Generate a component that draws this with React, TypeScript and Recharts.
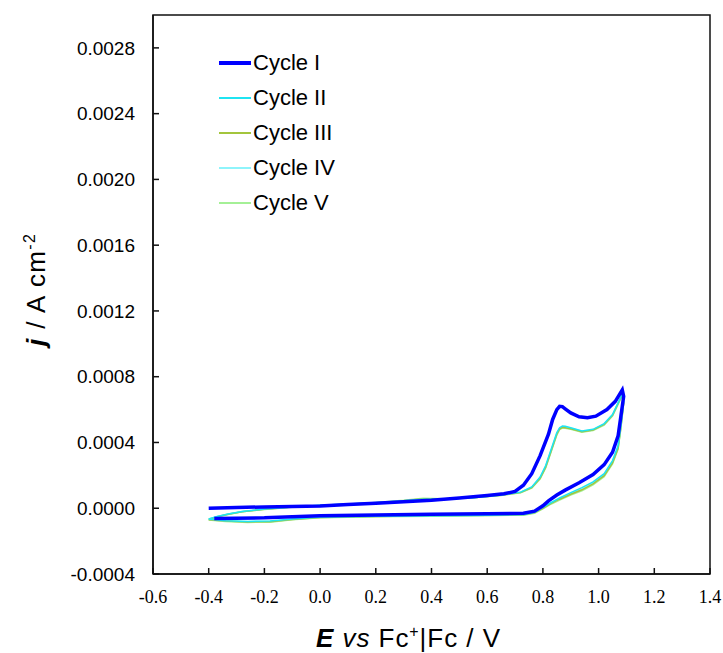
import React from 'react';
import {
  LineChart,
  Line,
  XAxis,
  YAxis,
  Legend,
  ReferenceArea,
  Label,
} from 'recharts';

const cycleNames = ['Cycle I', 'Cycle II', 'Cycle III', 'Cycle IV', 'Cycle V'];
const cycleColors = ['#0000ff', '#1fe4f2', '#a3c53c', '#8ef4fb', '#a4f096'];
const cycleWidths = [3.5, 1.5, 1.5, 1.5, 1.5];

const potentialTicks = [-0.6, -0.4, -0.2, 0, 0.2, 0.4, 0.6, 0.8, 1.0, 1.2, 1.4];
const currentTicks = [-0.0004, 0, 0.0004, 0.0008, 0.0012, 0.0016, 0.002, 0.0024, 0.0028];

// first scan, forward then back
const cycle1E = [
  -0.4, -0.3, -0.2, -0.1, 0.0, 0.1, 0.2, 0.3, 0.4, 0.5, 0.6, 0.66, 0.7, 0.73, 0.76, 0.79, 0.82, 0.835,
  0.85, 0.86, 0.87, 0.88, 0.9, 0.93, 0.96, 0.99, 1.03, 1.06, 1.085, 1.09, 1.08, 1.07, 1.05, 1.02, 0.98,
  0.93, 0.88, 0.85, 0.82, 0.8, 0.77, 0.73, 0.6, 0.4, 0.2, 0.0, -0.2, -0.38,
];
const cycle1J = [
  0.0, 0.000004, 0.000008, 0.000011, 0.000014, 0.000022, 0.00003, 0.00004, 0.000049, 0.000062,
  0.000078, 0.000088, 0.000102, 0.00014, 0.00021, 0.00032, 0.00045, 0.00054, 0.0006, 0.00062,
  0.000618, 0.000605, 0.00058, 0.000556, 0.00055, 0.00056, 0.0006, 0.00065, 0.00072, 0.00068,
  0.00056, 0.00044, 0.00034, 0.000265, 0.000205, 0.000155, 0.00011, 0.00008, 0.000045, 0.000015,
  -0.000018, -0.00003, -0.000034, -0.000037, -0.000041, -0.000046, -0.000058, -0.000062,
];

// cycles II-V share the same potential sampling
const loopE = [
  -0.4, -0.37, -0.33, -0.28, -0.2, -0.1, 0.0, 0.1, 0.2, 0.3, 0.37, 0.45, 0.55, 0.65, 0.72, 0.76, 0.79,
  0.81, 0.83, 0.85, 0.86, 0.87, 0.88, 0.9, 0.94, 0.98, 1.02, 1.05, 1.085, 1.09, 1.08, 1.07, 1.05, 1.02,
  0.98, 0.94, 0.9, 0.86, 0.83, 0.8, 0.77, 0.73, 0.6, 0.4, 0.2, 0.0, -0.1, -0.18, -0.26, -0.34, -0.4,
];
const cycle2J = [
  -0.000065, -0.00005, -0.000035, -0.00002, -0.000005, 0.000008, 0.000018, 0.000026, 0.000034,
  0.000045, 0.000055, 0.000056, 0.000064, 0.00008, 0.000098, 0.00013, 0.00019, 0.00026, 0.00036,
  0.00046, 0.00049, 0.0005, 0.000498, 0.00049, 0.00047, 0.00048, 0.000515, 0.00057, 0.000695,
  0.00065, 0.0005, 0.00038, 0.00029, 0.00021, 0.00016, 0.000125, 0.000095, 0.000062, 0.000035,
  0.000005, -0.000025, -0.000038, -0.000042, -0.000045, -0.000048, -0.000054, -0.000065, -0.000078,
  -0.00008, -0.000076, -0.000066,
];
const cycle3J = [
  -0.000068, -0.000052, -0.000036, -0.000021, -0.000006, 0.000007, 0.000017, 0.000025, 0.000034,
  0.000046, 0.000057, 0.000057, 0.000064, 0.000079, 0.000096, 0.000125, 0.000182, 0.00025, 0.00035,
  0.00045, 0.000482, 0.000492, 0.00049, 0.000484, 0.000465, 0.000475, 0.00051, 0.000565, 0.00069,
  0.00064, 0.00049, 0.000365, 0.000275, 0.000198, 0.000148, 0.000112, 0.000085, 0.000055, 0.00003,
  0.0, -0.000028, -0.00004, -0.000043, -0.000046, -0.00005, -0.000056, -0.000068, -0.000082,
  -0.000083, -0.000078, -0.00007,
];
const cycle4J = [
  -0.000066, -0.000051, -0.000035, -0.00002, -0.000005, 0.000008, 0.000018, 0.000026, 0.000035,
  0.000046, 0.000056, 0.000057, 0.000065, 0.00008, 0.000097, 0.000128, 0.000186, 0.000255, 0.000355,
  0.000455, 0.000486, 0.000496, 0.000494, 0.000487, 0.000468, 0.000478, 0.000512, 0.000568, 0.000692,
  0.000645, 0.000495, 0.000372, 0.000282, 0.000204, 0.000154, 0.000118, 0.00009, 0.000058, 0.000032,
  0.000002, -0.000027, -0.000039, -0.000042, -0.000045, -0.000049, -0.000055, -0.000067, -0.00008,
  -0.000082, -0.000077, -0.000069,
];
const cycle5J = [
  -0.00007, -0.000054, -0.000038, -0.000022, -0.000007, 0.000006, 0.000016, 0.000025, 0.000035,
  0.000048, 0.00006, 0.000058, 0.000064, 0.000078, 0.000094, 0.000122, 0.000178, 0.000245, 0.000345,
  0.000445, 0.000478, 0.000488, 0.000486, 0.00048, 0.000462, 0.000472, 0.000506, 0.00056, 0.000685,
  0.000635, 0.000485, 0.00036, 0.00027, 0.000192, 0.000142, 0.000106, 0.00008, 0.00005, 0.000026,
  -0.000003, -0.00003, -0.000042, -0.000045, -0.000048, -0.000052, -0.000058, -0.00007, -0.000085,
  -0.000086, -0.00008, -0.000072,
];

const toPoints = (e: number[], j: number[]) => e.map((x, i) => ({ x, j: j[i] }));

const series = [
  toPoints(cycle1E, cycle1J),
  toPoints(loopE, cycle2J),
  toPoints(loopE, cycle3J),
  toPoints(loopE, cycle4J),
  toPoints(loopE, cycle5J),
];

const SANS = 'Arial, "Liberation Sans", Helvetica, sans-serif';
const SERIF = '"Times New Roman", "Liberation Serif", serif';

function CycleLegend() {
  return (
    <div style={{ fontFamily: SANS, fontSize: 22, color: '#000' }}>
      {cycleNames.map((name, i) => (
        <div key={name} style={{ display: 'flex', alignItems: 'center', height: 35 }}>
          <svg width={34} height={10}>
            <line x1={1} x2={33} y1={5} y2={5} stroke={cycleColors[i]} strokeWidth={i === 0 ? 4 : 2} />
          </svg>
          <span style={{ marginLeft: 1 }}>{name}</span>
        </div>
      ))}
    </div>
  );
}

function XTitle() {
  return (
    <text x={408} y={647} textAnchor="middle" fontFamily={SANS} fontSize={26} fill="#000" textLength={184} lengthAdjust="spacing">
      <tspan fontWeight="bold" fontStyle="italic">E</tspan>
      <tspan fontStyle="italic"> vs</tspan>
      <tspan> Fc</tspan>
      <tspan fontSize={16} dy={-10}>+</tspan>
      <tspan dy={10}>|Fc / V</tspan>
    </text>
  );
}

function YTitle() {
  return (
    <text
      x={45}
      y={290}
      transform="rotate(-90, 45, 290)"
      textAnchor="middle"
      fontFamily={SANS}
      fontSize={26}
      fill="#000"
      textLength={112}
      lengthAdjust="spacing"
    >
      <tspan fontWeight="bold" fontStyle="italic">j</tspan>
      <tspan> / A cm</tspan>
      <tspan fontSize={16} dy={-10}>-2</tspan>
    </text>
  );
}

export default function App() {
  // draw the later cycles first so cycle I sits on top
  const order = [4, 3, 2, 1, 0];
  return (
    <div style={{ position: 'absolute', left: 0, top: 0, background: '#fff' }}>
      <LineChart width={723} height={653} margin={{ top: 15, right: 13, bottom: 49, left: 73 }}>
        <XAxis
          dataKey="x"
          type="number"
          domain={[-0.6, 1.4]}
          ticks={potentialTicks}
          tickFormatter={(v: number) => v.toFixed(1)}
          allowDuplicatedCategory={false}
          height={30}
          stroke="#111"
          strokeWidth={1.5}
          tickSize={-6}
          tickMargin={22}
          tick={{ fontFamily: SERIF, fontSize: 18, fill: '#000' }}
        >
          <Label content={<XTitle />} />
        </XAxis>
        <YAxis
          type="number"
          domain={[-0.0004, 0.003]}
          ticks={currentTicks}
          tickFormatter={(v: number) => v.toFixed(4)}
          width={80}
          stroke="#111"
          strokeWidth={1.5}
          tickSize={-6}
          tickMargin={24}
          tick={{ fontFamily: SANS, fontSize: 19, fill: '#000' }}
        >
          <Label content={<YTitle />} />
        </YAxis>
        <ReferenceArea x1={-0.6} x2={1.4} y1={-0.0004} y2={0.003} fill="none" stroke="#111" strokeWidth={1.5} />
        {order.map((i) => (
          <Line
            key={cycleNames[i]}
            data={series[i]}
            dataKey="j"
            name={cycleNames[i]}
            type="linear"
            stroke={cycleColors[i]}
            strokeWidth={cycleWidths[i]}
            dot={false}
            activeDot={false}
            isAnimationActive={false}
          />
        ))}
        <Legend
          layout="vertical"
          align="center"
          verticalAlign="middle"
          content={<CycleLegend />}
          wrapperStyle={{ left: 218, top: 45, width: 160, height: 180 }}
        />
      </LineChart>
    </div>
  );
}
